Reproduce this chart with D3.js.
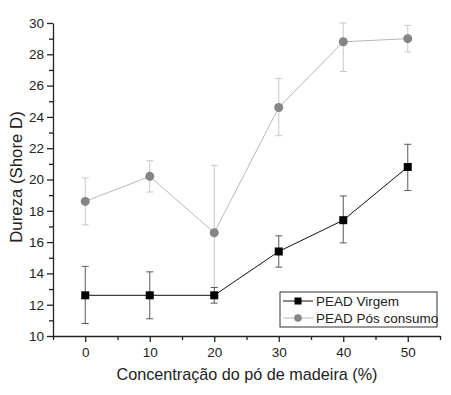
<!DOCTYPE html>
<html>
<head>
<meta charset="utf-8">
<script src="https://cdn.jsdelivr.net/npm/d3@7"></script>
<style>
  body { margin: 0; background: #fff; }
  text { font-family: "Liberation Sans", Arial, sans-serif; fill: #222; }
  .axis path, .axis line { stroke: #222; stroke-width: 1.3px; }
</style>
</head>
<body>
<svg id="chart" width="451" height="395"></svg>
<script>
// concentration of wood powder (%)
var concentracao = [0, 10, 20, 30, 40, 50];

// PEAD Virgem
var virgem = [12.6, 12.6, 12.6, 15.4, 17.4, 20.8];
var virgemLow = [10.8, 11.1, 12.1, 14.4, 15.95, 19.3];
var virgemHigh = [14.45, 14.1, 13.1, 16.4, 18.95, 22.25];

// PEAD Pós consumo
var posConsumo = [18.6, 20.2, 16.6, 24.6, 28.8, 29.0];
var posLow = [17.1, 19.2, 13.1, 22.8, 26.9, 28.15];
var posHigh = [20.1, 21.2, 20.9, 26.45, 30.0, 29.85];

var xTicks = [0, 10, 20, 30, 40, 50];
var yTicks = [10, 12, 14, 16, 18, 20, 22, 24, 26, 28, 30];
var seriesNames = ["PEAD Virgem", "PEAD Pós consumo"];

var plotLeft = 53, plotRight = 440, plotTop = 23, plotBottom = 336;

var svg = d3.select("#chart");

var x = d3.scaleLinear().domain([-5, 55]).range([plotLeft, plotRight]);
var y = d3.scaleLinear().domain([10, 30]).range([plotBottom, plotTop]);

// minor ticks first
svg.append("g")
  .attr("class", "axis")
  .attr("transform", "translate(0," + plotBottom + ")")
  .call(d3.axisBottom(x).tickValues([-5, 5, 15, 25, 35, 45, 55]).tickSize(4).tickFormat(""))
  .select(".domain").remove();

svg.append("g")
  .attr("class", "axis")
  .attr("transform", "translate(" + plotLeft + ",0)")
  .call(d3.axisLeft(y).tickValues(d3.range(11, 30, 2)).tickSize(4).tickFormat(""))
  .select(".domain").remove();

var xAxis = svg.append("g")
  .attr("class", "axis")
  .attr("transform", "translate(0," + plotBottom + ")")
  .call(d3.axisBottom(x).tickValues(xTicks).tickSize(6).tickSizeOuter(0).tickPadding(5));
xAxis.selectAll("text").style("font-size", "13.5px");

var yAxis = svg.append("g")
  .attr("class", "axis")
  .attr("transform", "translate(" + plotLeft + ",0)")
  .call(d3.axisLeft(y).tickValues(yTicks).tickSize(6).tickSizeOuter(0).tickPadding(3));
yAxis.selectAll("text").style("font-size", "13.5px");

// axis titles
svg.append("text")
  .attr("x", 247)
  .attr("y", 380)
  .attr("text-anchor", "middle")
  .style("font-size", "16.2px")
  .text("Concentração do pó de madeira (%)");

svg.append("text")
  .attr("transform", "translate(22,177) rotate(-90)")
  .attr("text-anchor", "middle")
  .style("font-size", "16.8px")
  .text("Dureza (Shore D)");

var line = d3.line()
  .x(function (d, i) { return x(concentracao[i]); })
  .y(function (d) { return y(d); });

function drawErrors(low, high, color) {
  var g = svg.append("g").style("stroke", color).style("stroke-width", "1px");
  concentracao.forEach(function (c, i) {
    var cx = x(c);
    g.append("line").attr("x1", cx).attr("x2", cx).attr("y1", y(low[i])).attr("y2", y(high[i]));
    g.append("line").attr("x1", cx - 3.5).attr("x2", cx + 3.5).attr("y1", y(low[i])).attr("y2", y(low[i]));
    g.append("line").attr("x1", cx - 3.5).attr("x2", cx + 3.5).attr("y1", y(high[i])).attr("y2", y(high[i]));
  });
}

// Pós consumo series
drawErrors(posLow, posHigh, "#c8c8c8");
svg.append("path")
  .datum(posConsumo)
  .attr("d", line)
  .style("fill", "none")
  .style("stroke", "#b8b8b8")
  .style("stroke-width", "1px");
svg.selectAll(".circle-pos")
  .data(posConsumo)
  .enter()
  .append("circle")
  .attr("class", "circle-pos")
  .attr("cx", function (d, i) { return x(concentracao[i]); })
  .attr("cy", function (d) { return y(d); })
  .attr("r", 4.5)
  .style("fill", "#858585");

// Virgem series
drawErrors(virgemLow, virgemHigh, "#5a5a5a");
svg.append("path")
  .datum(virgem)
  .attr("d", line)
  .style("fill", "none")
  .style("stroke", "#111")
  .style("stroke-width", "1px");
svg.selectAll(".square-virgem")
  .data(virgem)
  .enter()
  .append("rect")
  .attr("class", "square-virgem")
  .attr("x", function (d, i) { return x(concentracao[i]) - 4; })
  .attr("y", function (d) { return y(d) - 4; })
  .attr("width", 8)
  .attr("height", 8)
  .style("fill", "#000");

// legend
var legend = svg.append("g").attr("transform", "translate(280,292)");
legend.append("rect")
  .attr("width", 157)
  .attr("height", 35)
  .style("fill", "#fff")
  .style("stroke", "#333")
  .style("stroke-width", "1px");

var legendColors = [{ line: "#111", mark: "#000" }, { line: "#b8b8b8", mark: "#858585" }];
seriesNames.forEach(function (name, i) {
  var ly = 9 + i * 17;
  legend.append("line")
    .attr("x1", 3).attr("x2", 33).attr("y1", ly).attr("y2", ly)
    .style("stroke", legendColors[i].line);
  if (i === 0) {
    legend.append("rect").attr("x", 14.5).attr("y", ly - 3.5).attr("width", 7).attr("height", 7)
      .style("fill", legendColors[i].mark);
  } else {
    legend.append("circle").attr("cx", 18).attr("cy", ly).attr("r", 3.8)
      .style("fill", legendColors[i].mark);
  }
  legend.append("text")
    .attr("x", 36)
    .attr("y", ly + 4.5)
    .style("font-size", "13.5px")
    .text(name);
});
</script>
</body>
</html>
